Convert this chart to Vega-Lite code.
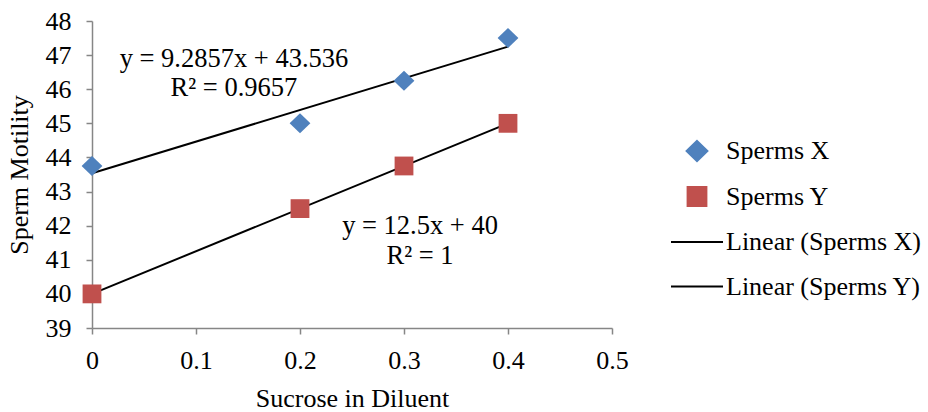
{
  "$schema": "https://vega.github.io/schema/vega-lite/v6.json",
  "width": 520,
  "height": 307,
  "autosize": {"type": "none"},
  "padding": {"left": 92, "top": 21, "right": 316, "bottom": 84},
  "background": "white",
  "config": {
    "font": "Liberation Serif",
    "view": {"stroke": null},
    "axis": {
      "grid": false,
      "domainColor": "#868686",
      "tickColor": "#868686",
      "domainWidth": 1.5,
      "tickWidth": 1.5,
      "tickSize": 6,
      "labelFont": "Liberation Serif",
      "labelFontSize": 26,
      "labelColor": "black",
      "labelOverlap": false,
      "labelBound": false,
      "labelFlush": false,
      "titleFont": "Liberation Serif",
      "titleFontSize": 26,
      "titleFontWeight": "normal",
      "titleColor": "black"
    },
    "legend": {
      "labelFont": "Liberation Serif",
      "labelFontSize": 26,
      "labelColor": "black",
      "labelLimit": 400
    }
  },
  "datasets": {
    "points": [
      {"sucrose": 0, "motility": 43.75, "series": "Sperms X"},
      {"sucrose": 0.2, "motility": 45, "series": "Sperms X"},
      {"sucrose": 0.3, "motility": 46.25, "series": "Sperms X"},
      {"sucrose": 0.4, "motility": 47.5, "series": "Sperms X"},
      {"sucrose": 0, "motility": 40, "series": "Sperms Y"},
      {"sucrose": 0.2, "motility": 42.5, "series": "Sperms Y"},
      {"sucrose": 0.3, "motility": 43.75, "series": "Sperms Y"},
      {"sucrose": 0.4, "motility": 45, "series": "Sperms Y"}
    ],
    "labels": [
      {"sucrose": 0.1365, "motility": 46.9, "label": "y = 9.2857x + 43.536"},
      {"sucrose": 0.1365, "motility": 46.05, "label": "R² = 0.9657"},
      {"sucrose": 0.3154, "motility": 42.0, "label": "y = 12.5x + 40"},
      {"sucrose": 0.3154, "motility": 41.1, "label": "R² = 1"}
    ]
  },
  "encoding": {
    "x": {
      "field": "sucrose",
      "type": "quantitative",
      "scale": {"domain": [0, 0.5], "nice": false, "zero": false},
      "axis": {
        "title": "Sucrose in Diluent",
        "values": [0, 0.1, 0.2, 0.3, 0.4, 0.5],
        "format": ".1~f",
        "labelOverlap": false,
        "labelPadding": 13,
        "titlePadding": 12
      }
    },
    "y": {
      "field": "motility",
      "type": "quantitative",
      "scale": {"domain": [39, 48], "nice": false, "zero": false},
      "axis": {
        "title": "Sperm Motility",
        "values": [39, 40, 41, 42, 43, 44, 45, 46, 47, 48],
        "tickCount": 10,
        "labelOverlap": false,
        "labelPadding": 15,
        "titlePadding": 13
      }
    }
  },
  "layer": [
    {
      "data": {"name": "points"},
      "transform": [{"regression": "motility", "on": "sucrose", "groupby": ["series"]}],
      "mark": {"type": "line", "color": "black", "strokeWidth": 2},
      "encoding": {
        "detail": {"field": "series"}
      }
    },
    {
      "data": {"name": "points"},
      "mark": {"type": "point", "filled": true, "opacity": 1, "size": 1600},
      "encoding": {
        "color": {
          "field": "series",
          "type": "nominal",
          "scale": {
            "domain": ["Sperms X", "Sperms Y", "Linear (Sperms X)", "Linear (Sperms Y)"],
            "range": ["#4F81BD", "#C0504D", "black", "black"]
          },
          "legend": {
            "title": null,
            "orient": "none",
            "legendX": 584,
            "legendY": 109,
            "padding": 0,
            "symbolSize": 1600,
            "labelOffset": 8,
            "rowPadding": 10.5,
            "symbolOpacity": 1,
            "encode": {
              "symbols": {
                "update": {
                  "stroke": {"scale": "color", "field": "value"},
                  "strokeWidth": {"value": 2}
                }
              }
            }
          }
        },
        "shape": {
          "field": "series",
          "type": "nominal",
          "scale": {
            "domain": ["Sperms X", "Sperms Y", "Linear (Sperms X)", "Linear (Sperms Y)"],
            "range": [
              "M0,-0.5L0.52,0L0,0.5L-0.52,0Z",
              "M-0.47,-0.47H0.47V0.47H-0.47Z",
              "M-1.3,0H1.3",
              "M-1.3,0H1.3"
            ]
          },
          "legend": null
        }
      }
    },
    {
      "data": {"name": "labels"},
      "mark": {"type": "text", "font": "Liberation Serif", "fontSize": 26.5, "color": "black", "align": "center", "baseline": "middle"},
      "encoding": {
        "text": {"field": "label"}
      }
    }
  ]
}
